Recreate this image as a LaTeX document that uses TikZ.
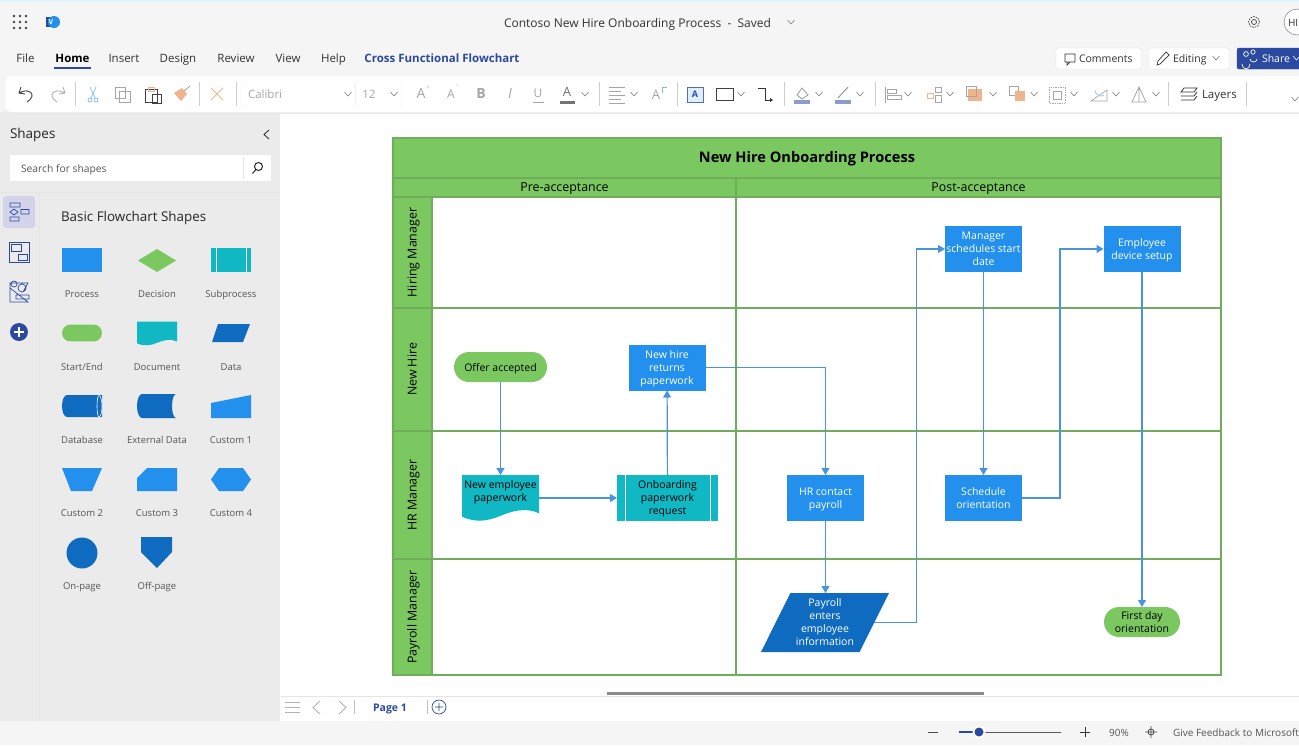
\documentclass[tikz,border=0pt]{standalone}
\usepackage{fontspec}
\setmainfont{Open Sans}
\usetikzlibrary{shapes}
\usetikzlibrary{shapes.geometric}
\usetikzlibrary{positioning}
\usetikzlibrary{arrows.meta}
\definecolor{procblue}{HTML}{2390EE}
\definecolor{darkblue}{HTML}{0F6BBF}
\definecolor{tealc}{HTML}{10B8C4}
\definecolor{greenc}{HTML}{7CC860}
\definecolor{poolline}{HTML}{6FAD5C}
\definecolor{linkc}{HTML}{4A94DE}
\definecolor{navy}{HTML}{2B4A9F}
\definecolor{band}{HTML}{F5F5F5}
\definecolor{side}{HTML}{EBEBEB}
\definecolor{greyt}{HTML}{555555}
\definecolor{icong}{HTML}{A6A6A6}
\definecolor{orangec}{HTML}{F0B48C}
\newcommand{\fs}[2]{\fontsize{#1}{#2}\selectfont}
\newcommand{\chev}[2]{\draw[chevl] (#1-3.5,#2-2) -- (#1,#2+2) -- (#1+3.5,#2-2);}
\newcommand{\sepl}[1]{\draw[sepline] (#1,82) -- (#1,106);}
\newcommand{\ml}[1]{\raisebox{-1pt}[\height][\depth]{\begin{tabular}{@{}c@{}}#1\end{tabular}}}
\begin{document}
\begin{tikzpicture}[x=1pt,y=-1pt,
            every node/.style={inner sep=0pt,outer sep=0pt,
                execute at begin node=\rule{0pt}{\baselineskip},
                execute at end node=\rule[-.3\baselineskip]{0pt}{.3\baselineskip}},
            flow/.style = {->,>={Triangle[width=8pt,length=7pt]},draw=linkc,line width=1.2pt},
            proc/.style = {fill=procblue,text=white,minimum width=77pt,minimum height=46pt,font=\fs{10.5}{13}},
            startend/.style = {rounded rectangle,fill=greenc,minimum height=30pt,font=\fs{10.5}{13}},
            lanehead/.style = {draw=poolline,line width=1.2pt,fill=greenc,rotate=90,minimum height=39pt,font=\fs{12.4}{12}},
            lanerow/.style = {draw=poolline,line width=1.2pt,fill=white,minimum width=789pt},
            phase/.style = {draw=poolline,line width=1.2pt,fill=greenc,minimum height=19pt,font=\fs{12.4}{12}},
            menu/.style = {font=\fs{11.5}{14},text=black!80},
            tag/.style = {font=\fs{9.5}{12},text=greyt},
            tool/.style = {font=\fs{13}{15},text=icong},
            chevl/.style = {draw=black!50,line width=.6pt},
            sepline/.style = {draw=black!20,line width=.8pt},
            btn/.style = {draw=black!12,fill=white,rounded corners=2pt,minimum height=21pt},
            subproc/.style = {fill=tealc,path picture={
                \draw[white,line width=.8pt] ([xshift=#1]path picture bounding box.north west) -- ([xshift=#1]path picture bounding box.south west);
                \draw[white,line width=.8pt] ([xshift=-#1]path picture bounding box.north east) -- ([xshift=-#1]path picture bounding box.south east);}}]
            \clip (0,0) rectangle (1299,745);
            % window
            \fill[white] (0,0) rectangle (1299,745);
            \fill[band] (0,0) rectangle (1299,112);
            \fill[cyan!12] (0,0) rectangle (1299,1.5);
            \fill[side] (0,112) rectangle (280,721);
            \fill[band] (0,721) rectangle (1299,745);
            \draw[black!10] (39.5,192) -- (39.5,721);
            \draw[black!10] (0,192) -- (280,192);
            \draw[black!10] (281,696) -- (1299,696);
            \fill[black!8] (5,78) rectangle (1299,114);
            \fill[white,rounded corners=5pt] (5,76) rectangle (1320,112);
            % title bar
            \foreach \a in {14,20,26} \foreach \b in {16,22,28}
                \fill[black!75] (\a,\b) circle (1.3pt);
            \fill[navy] (46,17) rectangle (57,27);
            \fill[procblue] (54,22) circle (6pt);
            \node[text=white,font=\bfseries\fs{7}{8}] (vlogo) at (51,22) {V};
            \node[font=\fs{12}{14},text=black!80] (doctitle) at (637.5,23) {Contoso New Hire Onboarding Process\ \ -\ \ Saved};
            \chev{791}{22}
            \draw[black!75,line width=.7pt,dash pattern=on 1.6pt off 1pt] (1254,22) circle (5.5pt);
            \draw[black!75,line width=.7pt] (1254,22) circle (2.5pt);
            \draw[black!60,fill=white] (1297,22) circle (13pt);
            \node[font=\fs{10}{12},text=black!80,anchor=west] (avatar) at (1288,22) {HI};
            % menu
            \node[menu] (mfile) at (25.5,58) {File};
            \node[menu,text=black,font=\bfseries\fs{11.5}{14}] (mhome) at (72.5,58) {Home};
            \node[menu] (minsert) at (124,58) {Insert};
            \node[menu] (mdesign) at (178,58) {Design};
            \node[menu] (mreview) at (236,58) {Review};
            \node[menu] (mview) at (288,58) {View};
            \node[menu] (mhelp) at (333.5,58) {Help};
            \node[menu,text=navy,font=\bfseries\fs{11.5}{14}] (mcross) at (442,58) {Cross Functional Flowchart};
            \draw[navy,line width=1.4pt] (54,68) -- (91,68);
            \node[btn,minimum width=85pt] (comments) at (1098.5,58.5) {};
            \node[menu,font=\fs{10.5}{13},anchor=west] (commentst) at (1079,57.5) {Comments};
            \draw[black!80,line width=.7pt] (1065,54) rectangle (1075,62) (1067,62) -- (1067,65) -- (1070,62);
            \node[btn,minimum width=80pt] (editing) at (1189,58.5) {};
            \node[menu,font=\fs{10.5}{13},anchor=west] (editingt) at (1173,57.5) {Editing};
            \draw[black!80,line width=.7pt] (1157,65) -- (1158,61) -- (1166,52) -- (1169,55) -- (1160,64) -- cycle;
            \chev{1216}{58}
            \node[btn,draw=navy,fill=navy,minimum width=70pt] (share) at (1272,58.5) {};
            \node[menu,text=white,font=\fs{10.5}{13},anchor=west] (sharet) at (1262,57.5) {Share};
            \draw[white,line width=.7pt] (1246,54) circle (2.4pt) (1242,64) arc (180:360:4pt and 5pt) (1253,52) circle (2.2pt) (1250,59) arc (180:360:3.5pt and 3pt);
            \draw[white,line width=.6pt] (1293,56) -- (1296.5,60) -- (1300,56);
            % ribbon
            \draw[black!75,line width=.9pt] (21,87) -- (19,93) -- (25,94) (19,93) .. controls (29,87) and (38,95) .. (27,102);
            \draw[black!30,line width=.9pt] (63,87) -- (65,93) -- (59,94) (65,93) .. controls (55,87) and (46,95) .. (57,102);
            \sepl{75.5}
            \draw[procblue!60,line width=.7pt] (90,87) -- (95,98) (96,87) -- (91,98) (90,100) circle (2pt) (96,100) circle (2pt);
            \draw[black!35,line width=.8pt,fill=white] (115,87) rectangle (125,98) (119,91) rectangle (130,102);
            \draw[black!75,line width=.9pt] (145,89) rectangle (157,102) (152,94) rectangle (161,103);
            \draw[orangec,line width=1pt] (148,87) rectangle (154,91);
            \fill[orangec] (174,93) -- (182,88) -- (187,94) -- (181,101) -- cycle;
            \draw[black!35,line width=.9pt] (184,91) -- (190,86);
            \sepl{199}
            \draw[orangec,line width=.9pt] (211,88) -- (223,100) (223,88) -- (211,100);
            \sepl{236}
            \draw[black!6,fill=white,rounded corners=2pt] (241,82) rectangle (402,106);
            \draw[black!6] (355,82) -- (355,106);
            \node[tool,font=\fs{11.5}{14},anchor=west] (fontname) at (248,94) {Calibri};
            \chev{348}{94}
            \node[tool,font=\fs{11.5}{14}] (fontsize) at (369,94) {12};
            \chev{394}{94}
            \node[tool,font=\fs{14}{15}] (grow) at (421,93) {A};
            \node[tool,font=\fs{6}{7}] (growm) at (428,88) {\^{}};
            \node[tool,font=\fs{12}{14}] (shrink) at (451,94) {A};
            \node[tool,font=\fs{6}{7}] (shrinkm) at (457,87) {\textasciicaron};
            \node[tool,font=\bfseries\fs{14}{15}] (bold) at (481,93) {B};
            \node[tool,font=\itshape\fs{14}{15}] (ital) at (510,93) {I};
            \node[tool,font=\fs{12}{15}] (under) at (538,92) {U};
            \draw[icong,line width=.8pt] (533,102) -- (544,102);
            \node[tool,font=\fs{13}{15},text=black!55] (fcolor) at (567,91) {A};
            \fill[black!55] (560,101) rectangle (575,104);
            \chev{585}{94}
            \sepl{599}
            \draw[icong,line width=.9pt] (609,87) -- (625,87) (609,91) -- (621,91) (609,95) -- (625,95) (609,99) -- (621,99) (609,103) -- (625,103);
            \chev{634}{94}
            \node[tool] (rotatea) at (656,94) {A};
            \draw[procblue!60,line width=.7pt] (662,93) -- (662,87) -- (667,87);
            \sepl{677}
            \draw[navy!80,line width=.9pt,fill=procblue!15] (687,87) rectangle (703,102);
            \node[font=\bfseries\fs{9}{10},text=navy] (tbox) at (695,93.5) {A};
            \draw[black!75,line width=.9pt] (716,88) rectangle (733,100);
            \chev{741}{94}
            \draw[black!80,line width=.9pt] (758,88) -- (765,88) -- (765,100) -- (770,100);
            \fill[black!80] (770,98) -- (773,100) -- (770,102) -- cycle;
            \sepl{784}
            \fill[navy!55] (794,100) rectangle (810,104);
            \draw[black!40,line width=.8pt] (797,95) -- (802,88) -- (808,95) -- (802,99) -- cycle;
            \chev{819}{94}
            \fill[navy!55] (835,100) rectangle (851,104);
            \draw[black!40,line width=1pt] (838,98) -- (848,87);
            \chev{860}{94}
            \sepl{875}
            \draw[icong,line width=.7pt] (885,87) -- (885,103) (887,89) rectangle (896,93) (887,95) rectangle (901,99);
            \chev{908}{94}
            \draw[orangec,line width=.7pt] (927,93) rectangle (933,98);
            \draw[icong,line width=.7pt] (935,87) rectangle (941,92) (935,95) rectangle (941,102);
            \chev{950}{94}
            \fill[orangec] (968,89) rectangle (982,101);
            \draw[icong,line width=.7pt] (966,86) rectangle (976,96);
            \chev{993}{94}
            \draw[icong,line width=.7pt] (1009,86) rectangle (1018,95);
            \fill[orangec] (1015,91) rectangle (1025,101);
            \chev{1034}{94}
            \draw[icong,line width=.7pt,densely dotted] (1049,87) rectangle (1065,103);
            \draw[icong,line width=.7pt] (1053,91) rectangle (1061,99);
            \chev{1074}{94}
            \draw[icong,line width=.7pt] (1091,101) -- (1107,101) -- (1107,90) -- cycle;
            \draw[procblue!50,line width=.7pt] (1095,90) arc (180:300:6pt);
            \chev{1116}{94}
            \draw[icong,line width=.8pt] (1139,87) -- (1132,102) -- (1146,102) -- cycle (1139,87) -- (1139,102);
            \chev{1156}{94}
            \sepl{1168}
            \draw[black!80,line width=.8pt] (1184,88) -- (1197,88) -- (1194,92) -- (1181,92) -- cycle (1181,96) -- (1194,96) -- (1197,92) (1181,100) -- (1194,100) -- (1197,96);
            \node[menu,font=\fs{11.5}{14},anchor=west] (layers) at (1202,93.5) {Layers};
            \sepl{1246}
            \chev{1295}{99}
            % shapes panel
            \node[font=\fs{13.5}{15},text=black!85,anchor=west] (panelt) at (10,133) {Shapes};
            \draw[black!80,line width=.9pt] (269,130) -- (264,134.5) -- (269,139);
            \fill[white] (10,155) rectangle (271,181);
            \draw[black!10] (243,157) -- (243,179);
            \node[tag,font=\fs{10.3}{12},anchor=west] (search) at (21,168.5) {Search for shapes};
            \draw[black!85,line width=1pt] (258.5,166.5) circle (4pt) (255.5,170) -- (252.5,173.5);
            \fill[black!15!blue!10!side,rounded corners=3pt] (3,196) rectangle (35,228);
            \draw[navy,line width=.7pt] (10,203) rectangle (20,207) (14,209) -- (10,212) -- (14,215) -- (18,212) -- cycle (21,209.5) rectangle (29,214) (10,217) rectangle (19,221);
            \draw[navy,line width=.7pt] (9,242) rectangle (29,262) (11,244) rectangle (21,251) (18,254) rectangle (27,260);
            \draw[navy,line width=.7pt] (10,298) -- (10,283) -- (28,283) -- (23,292) (10,302) -- (28,302) -- (10,288) -- cycle (14,284) circle (3pt) (22,288) circle (4pt) (16,295) rectangle (29,299);
            \fill[navy] (19,332) circle (9pt);
            \draw[white,line width=1.2pt] (14,332) -- (24,332) (19,327) -- (19,337);
            \node[font=\fs{13.4}{15},text=black!85,anchor=west] (paneltwo) at (61,216) {Basic Flowchart Shapes};
            \node[fill=procblue,minimum width=40pt,minimum height=24pt] (sproc) at (82,260) {};
            \node[diamond,fill=greenc,minimum width=38pt,minimum height=23pt,aspect=1.65] (sdec) at (157,260.5) {};
            \node[subproc=5pt,minimum width=40pt,minimum height=24pt] (ssub) at (231,260) {};
            \node[tag] (tproc) at (82,293) {Process};
            \node[tag] (tdec) at (157,293) {Decision};
            \node[tag] (tsub) at (231,293) {Subprocess};
            \node[startend,minimum width=40pt,minimum height=15pt] (sstart) at (82,333) {};
            \fill[tealc] (137,321.5) -- (177,321.5) -- (177,341.5) .. controls (170.3,338.2) and (163,340.3) .. (156.8,342.9) .. controls (150.5,345.5) and (144.3,346.5) .. (137,343.3) -- cycle;
            \fill[darkblue] (218,324) -- (250,324) -- (243,342) -- (212,342) -- cycle;
            \node[tag] (tstart) at (82,366) {Start/End};
            \node[tag] (tdoc) at (157,366) {Document};
            \node[tag] (tdata) at (231,366) {Data};
            \fill[darkblue] (67,395) -- (102,395) -- (102,417) -- (67,417) arc (270:90:5pt and 11pt) -- cycle;
            \draw[white,line width=.6pt] (99,395.5) arc (90:-90:3pt and 10.75pt) (99,395.5) arc (90:270:2pt and 10.75pt);
            \fill[darkblue] (142,394) -- (176,394) arc (90:270:4pt and 12pt) -- (142,418) arc (270:90:5pt and 12pt) -- cycle;
            \fill[procblue] (211,403) -- (251,395) -- (251,418) -- (211,418) -- cycle;
            \node[tag] (tdb) at (82,439) {Database};
            \node[tag] (text) at (157,439) {External Data};
            \node[tag] (tcone) at (231,439) {Custom 1};
            \fill[procblue] (62,468) -- (102,468) -- (92,491) -- (71,491) -- cycle;
            \fill[procblue] (147,468) -- (177,468) -- (177,491) -- (137,491) -- (137,478) -- cycle;
            \fill[procblue] (219,468) -- (243,468) -- (251,479.5) -- (243,491) -- (219,491) -- (211,479.5) -- cycle;
            \node[tag] (tctwo) at (82,512) {Custom 2};
            \node[tag] (tcthree) at (157,512) {Custom 3};
            \node[tag] (tcfour) at (231,512) {Custom 4};
            \fill[darkblue] (82,553) circle (15.5pt);
            \fill[darkblue] (141,537) -- (172,537) -- (172,552) -- (157,568) -- (141,552) -- cycle;
            \node[tag] (ton) at (82,585) {On-page};
            \node[tag] (toff) at (157,585) {Off-page};
            % swimlanes
            \node[draw=poolline,line width=1.2pt,fill=greenc,minimum width=828pt,minimum height=40pt,font=\bfseries\fs{14.6}{12}] (title) at (807,158) {New Hire Onboarding Process};
            \node[phase,minimum width=343pt,below=0pt of title.south west,anchor=north west] (pre) {Pre-acceptance};
            \node[phase,minimum width=485pt,right=0pt of pre] (post) {Post-acceptance};
            \node[lanerow,minimum height=111pt] (row1) at (826.5,252.5) {};
            \node[lanerow,minimum height=123pt] (row2) at (826.5,369.5) {};
            \node[lanerow,minimum height=128pt] (row3) at (826.5,495) {};
            \node[lanerow,minimum height=116pt] (row4) at (826.5,617) {};
            \node[lanehead,minimum width=111pt] (lane1) at (412.5,252.5) {Hiring Manager};
            \node[lanehead,minimum width=123pt] (lane2) at (412.5,369.5) {New Hire};
            \node[lanehead,minimum width=128pt] (lane3) at (412.5,495) {HR Manager};
            \node[lanehead,minimum width=116pt] (lane4) at (412.5,617) {Payroll Manager};
            \draw[draw=poolline,line width=1.2pt] (pre.south east) -- (pre.south east |- row4.south);
            % flow shapes
            \node[startend,minimum width=93pt] (offer) at (500.5,367) {Offer accepted};
            \node[proc] (returns) at (667,367.5) {\ml{New hire\\returns\\paperwork}};
            \fill[tealc] (462,475) -- (539,475) -- (539,513.3) .. controls (526,507) and (512,511) .. (500,516) .. controls (488,521) and (476,523) .. (462,516.7) -- cycle;
            \node[minimum width=77pt,minimum height=46pt,font=\fs{10.5}{13}] (newemp) at (500.5,498) {\ml{New employee\\paperwork\\\mbox{}}};
            \node[subproc=8pt,minimum width=101pt,minimum height=46pt,font=\fs{10.5}{13}] (request) at (667.5,498) {\ml{Onboarding\\paperwork\\request}};
            \node[proc] (contact) at (825.5,498) {\ml{HR contact\\payroll}};
            \node[proc] (schedule) at (983.5,498) {\ml{Schedule\\orientation}};
            \node[proc] (startdate) at (983.5,249) {\ml{Manager\\schedules start\\date}};
            \node[proc] (device) at (1142,249) {\ml{Employee\\device setup}};
            \node[trapezium,trapezium left angle=64.6,trapezium right angle=115.4,trapezium stretches=true,fill=darkblue,text=white,minimum width=128pt,minimum height=59pt,font=\fs{10.5}{13}] (enters) at (825,622.5) {\ml{Payroll\\enters\\employee\\information}};
            \node[startend,minimum width=76pt] (firstday) at (1142,622) {\ml{First day\\orientation}};
            % connectors
            \draw[flow] (offer) -- (newemp);
            \draw[flow] (newemp) -- (request);
            \draw[flow] (request) -- (returns);
            \draw[flow] (returns) -| (contact);
            \draw[flow] (contact) -- (contact |- enters.north);
            \draw[flow] (enters.east) -- ++(42,0) coordinate (turn1) -- (turn1 |- startdate) -- (startdate);
            \draw[flow] (startdate) -- (schedule);
            \draw[flow] (schedule) -- ++(76.5,0) coordinate (turn2) -- (turn2 |- device) -- (device);
            \draw[flow] (device) -- (firstday);
            % bottom bars
            \fill[black!45] (607,692) rectangle (984,695);
            \draw[black!30,line width=.9pt] (285,702) -- (300,702) (285,707) -- (300,707) (285,712) -- (300,712);
            \draw[black!30,line width=.9pt] (320,701) -- (313,707.5) -- (320,714) (339,701) -- (346,707.5) -- (339,714);
            \draw[black!25,line width=.9pt] (354.5,700) -- (354.5,714) (427,700) -- (427,714);
            \node[font=\bfseries\fs{10.5}{13},text=navy] (page) at (390,707) {Page 1};
            \draw[navy,line width=.7pt] (439,707) circle (7pt) (435,707) -- (443,707) (439,703) -- (439,711);
            \draw[black!70,line width=.8pt] (928,732) -- (938,732);
            \draw[black!65,line width=1pt] (959,732) -- (1061,732);
            \draw[navy,line width=1.2pt] (959,732) -- (979,732);
            \fill[white] (979,732) circle (6.5pt);
            \fill[navy] (979,732) circle (4.5pt);
            \draw[black!80,line width=.8pt] (1080,732) -- (1090,732) (1085,727) -- (1085,737);
            \node[font=\fs{10}{12},text=greyt] (zoom) at (1119,732) {90\%};
            \draw[black!70,line width=.8pt] (1151,732) circle (3pt) (1151,726) -- (1151,738) (1145,732) -- (1157,732);
            \node[font=\fs{10}{12},text=greyt,anchor=west] (feedback) at (1173,732) {Give Feedback to Microsoft};
\end{tikzpicture}
\end{document}
